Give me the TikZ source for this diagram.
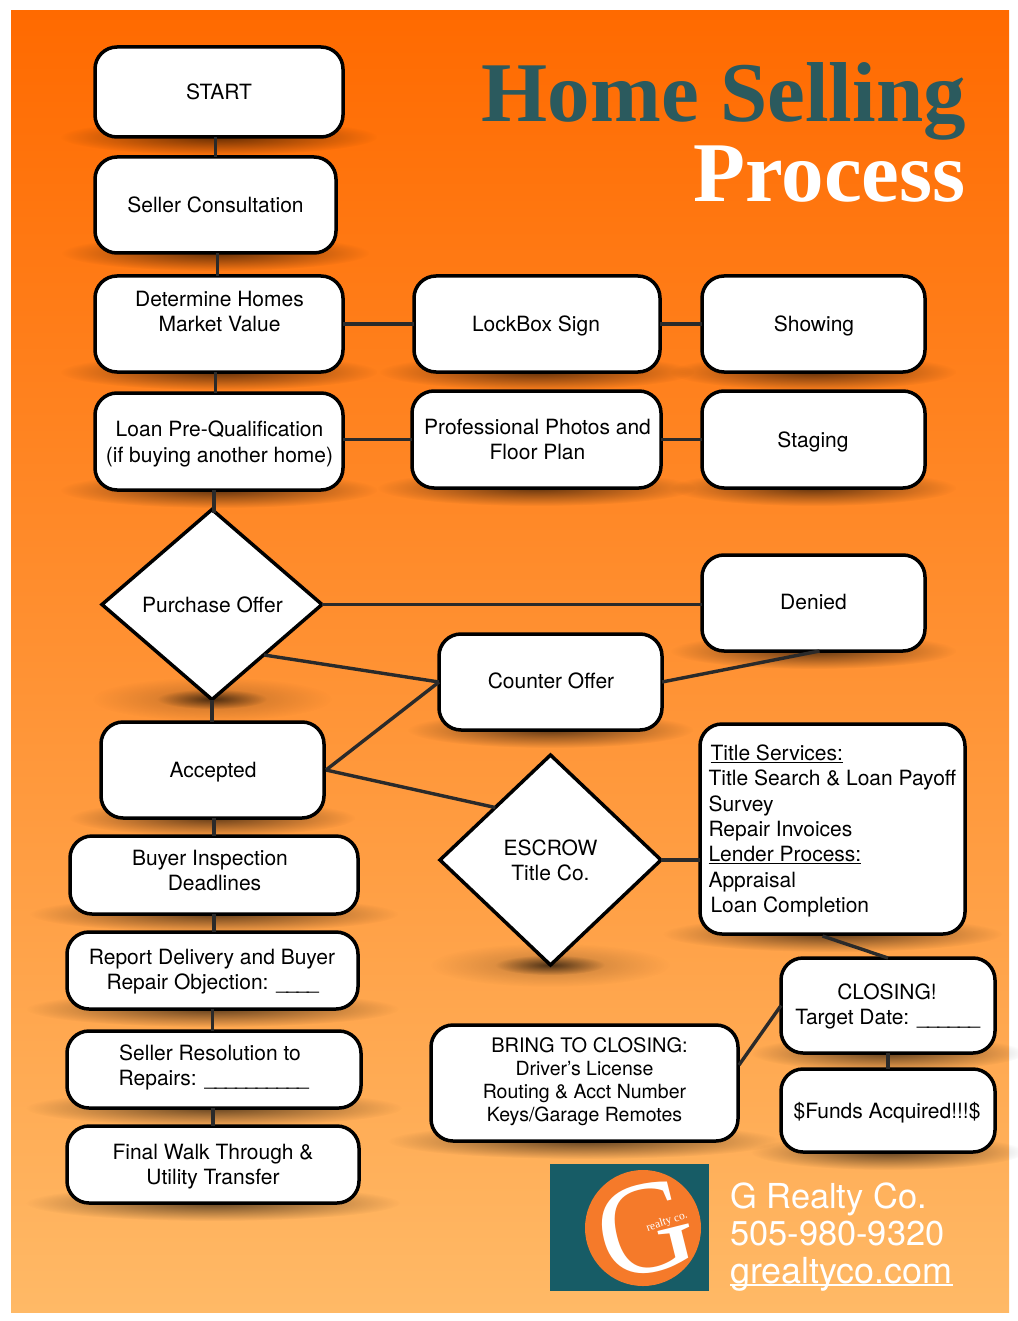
\documentclass[tikz,border=0pt]{standalone}
\usepackage{fontspec}
\setmainfont{TeX Gyre Heros}
\newfontfamily\ttlfont{Liberation Serif}
\usetikzlibrary{shapes.geometric,fadings,calc}
\tikzfading[name=softfade, inner color=transparent!40, outer color=transparent!100]
\tikzset{
  box/.style={draw=black, line width=3.5pt, rounded corners=22pt, fill=white, inner sep=0pt, outer sep=0pt},
  dia/.style={diamond, draw=black, line width=3.5pt, fill=white, inner sep=0pt, outer sep=0pt, aspect=1.16},
  link/.style={draw=linkgrey, line width=3.4pt},
  soft/.style={fill=black, path fading=softfade, draw=none},
  foot/.style={text=white, anchor=base west, inner sep=0pt, font=\fontsize{34.4}{34}\selectfont},
  head/.style={anchor=base east, inner sep=0pt, font=\ttlfont\bfseries\fontsize{85}{85}\selectfont}
}
\definecolor{linkgrey}{HTML}{2A2A2A}
\definecolor{topor}{HTML}{FF6A00}
\definecolor{botor}{HTML}{FFB966}
\definecolor{teal}{HTML}{175C66}
\definecolor{titleteal}{HTML}{2B5A5E}
\definecolor{logoor}{HTML}{F57A2A}
\newcommand{\tx}[3]{\raisebox{\dimexpr -#2pt-2.5pt\relax}[0pt][0pt]{\makebox[0pt][c]{\hspace{\dimexpr 2\dimexpr #1pt\relax\relax}\parbox{440pt}{\fontsize{21}{25.3}\selectfont\centering #3}}}}
% name, x1, y1, x2, y2 (outer edges), dx, dy, text
\newcommand{\bx}[8]{%
  \pgfmathsetmacro\cxx{(#2+#4)/2}\pgfmathsetmacro\cyy{(#3+#5)/2}%
  \pgfmathsetmacro\wdd{#4-#2}\pgfmathsetmacro\htt{#5-#3}%
  \node[box, minimum width=\wdd pt, minimum height=\htt pt] (#1) at (\cxx,\cyy) {\tx{#6}{#7}{#8}};%
}
\newcommand{\shd}[3]{% x1, x2, y of lower edge
  \pgfmathsetmacro\cxx{(#1+#2)/2}\pgfmathsetmacro\rxx{(#2-#1)*0.64}%
  \fill[soft] (\cxx,#3) ellipse [x radius=\rxx pt, y radius=18pt];%
}
\newcommand{\tipshd}[2]{% shadow below a diamond's tip
  \fill[soft, fill opacity=.4] (#1,#2) ellipse [x radius=120pt, y radius=22pt];%
  \fill[soft] (#1,#2) ellipse [x radius=55pt, y radius=10pt];%
}
\newcommand{\us}{\_\kern-1.4pt}
\begin{document}
\begin{tikzpicture}[x=1pt,y=-1pt]
\useasboundingbox (0,0) rectangle (1017,1321);
\fill[white] (0,0) rectangle (1017,1321);
\shade[top color=topor, bottom color=botor] (11,11) rectangle (1009,1312);
% soft shadows
\shd{95}{343}{137}\shd{95}{336}{253}\shd{95}{343}{372}\shd{95}{343}{490}
\shd{414}{660}{372}\shd{412}{661}{488}\shd{702}{925}{372}\shd{702}{925}{488}
\shd{702}{925}{651}\shd{439}{662}{730}\shd{101}{324}{818}\shd{70}{358}{914}
\shd{67}{358}{1009}\shd{67}{361}{1108}\shd{67}{359}{1203}\shd{700}{965}{934}
\shd{781}{995}{1053}\shd{781}{995}{1152}\shd{431}{738}{1141}
\tipshd{212}{699}\tipshd{550}{965}
% title
\node[head, text=titleteal] (ttlA) at (966,122) {Home Selling};
\node[head, text=white] (ttlB) at (966,202) {Process};
% boxes
\bx{start}{95}{47}{343}{137}{0}{0}{START}
\bx{consult}{95}{157}{336}{253}{0}{0}{Seller Consultation}
\bx{market}{95}{276}{343}{372}{0.5}{-12.5}{Determine Homes\\Market Value}
\bx{lockbox}{414}{276}{660}{372}{-1}{2}{LockBox Sign}
\bx{showing}{702}{276}{925}{372}{0.5}{2}{Showing}
\bx{loan}{95}{393}{343}{490}{0.5}{2.5}{Loan Pre-Qualification\\(if buying another home)}
\bx{photos}{412}{391}{661}{488}{1}{0}{Professional Photos and\\Floor Plan}
\bx{staging}{702}{391}{925}{488}{-0.5}{2}{Staging}
\bx{denied}{702}{555}{925}{651}{0}{-1}{Denied}
\bx{counter}{439}{634}{662}{730}{0.5}{-1}{Counter Offer}
\bx{accepted}{101}{722}{324}{818}{0.5}{2}{Accepted}
\bx{buyer}{70}{836}{358}{914}{-4}{-4.5}{Buyer Inspection\\\hspace*{9pt}Deadlines}
\bx{report}{67}{932}{358}{1009}{-0.5}{1}{Report Delivery and Buyer\\Repair Objection: \us\us\us\us}
\bx{resolution}{67}{1031}{361}{1108}{-4}{-2}{Seller Resolution to\\\hspace*{6pt}Repairs: \us\us\us\us\us\us\us\us\us\us}
\bx{final}{67}{1126}{359}{1203}{0}{2}{Final Walk Through \&\\Utility Transfer}
\bx{titlebox}{700}{724}{965}{934}{96}{2}{\raggedright\hspace*{2pt}\underline{Title Services:}\\Title Search \& Loan Payoff\\Survey\\Repair Invoices\\\underline{Lender Process:}\\Appraisal\\\hspace*{2pt}Loan Completion}
\bx{closing}{781}{958}{995}{1053}{-1}{1}{CLOSING!\\Target Date: \us\us\us\us\us\us}
\bx{funds}{781}{1069}{995}{1152}{-1}{2}{\$Funds Acquired!!!\$}
\bx{bring}{431}{1025}{738}{1141}{0}{-1}{\fontsize{20}{23}\selectfont\hspace*{10pt}BRING TO CLOSING:\\\fontsize{19.5}{23}\selectfont Driver’s License\\Routing \& Acct Number\\Keys/Garage Remotes}
% diamonds
\node[dia, minimum width=220pt, minimum height=190pt] (purchase) at (212,604.5) {\tx{0.5}{0.5}{Purchase Offer}};
\node[dia, minimum width=221pt, minimum height=210pt] (escrow) at (550.5,860) {\tx{0}{0}{ESCROW\\Title Co.}};
% connectors
\coordinate (cmA) at ($(consult.south)+(2,0)$);
\coordinate (lpA) at ($(purchase.north)+(2,3)$);
\draw[link] (start.south -| consult.north) -- (consult.north);
\draw[link] (cmA) -- (market.north -| cmA);
\draw[link] (market.south -| consult.south) -- (loan.north -| consult.south);
\draw[link] (loan.south -| lpA) -- (lpA);
\draw[link] (purchase.south) -- (accepted.north -| purchase.south);
\draw[link] (accepted.south -| buyer.north) -- (buyer.north);
\draw[link] (buyer.south) -- (report.north -| buyer.south);
\draw[link] (report.south) -- (resolution.north -| report.south);
\draw[link] (resolution.south -| final.north) -- (final.north);
\draw[link] (market.east) -- (lockbox.west);
\draw[link] (lockbox.east) -- (showing.west);
\draw[link] (loan.east |- photos.west) -- (photos.west);
\draw[link] (photos.east) -- (staging.west);
\draw[link] (purchase.east) -- (purchase.east -| denied.west);
\coordinate (pcA) at ($(purchase.south east)+(-3,3)$);
\draw[link] (pcA) -- (counter.west);
\coordinate (deniedfoot) at ($(denied.south)+(6,0)$);
\draw[link] (counter.east) -- (deniedfoot);
\coordinate (acceptedside) at ($(accepted.east)+(2,0)$);
\draw[link] (acceptedside) -- (counter.west);
\draw[link] (acceptedside) -- (escrow.north west);
\draw[link] (escrow.east) -- (escrow.east -| titlebox.west);
\coordinate (titlefoot) at ($(titlebox.south)+(-10,2)$);
\draw[link] (titlefoot) -- (closing.north);
\coordinate (bringside) at ($(bring.east)+(1,-18)$);
\draw[link] (bringside) -- (closing.west);
\draw[link] (closing.south) -- (funds.north);
% logo
\fill[teal] (550,1164) rectangle (709,1291);
\node[circle, fill=logoor, minimum size=116pt, inner sep=0pt] (disc) at (643,1228) {};
\node[text=white, inner sep=0pt, rotate=14, font=\ttlfont\fontsize{132}{132}\selectfont] (logoG) at (645,1229) {G};
\node[text=white, inner sep=0pt, rotate=18, font=\ttlfont\fontsize{11.5}{12}\selectfont] (logoT) at (667,1222) {realty co.};
% footer text
\node[foot] (ftA) at (730,1208) {G Realty Co.};
\node[foot] (ftB) at (730,1245) {505-980-9320};
\node[foot, font=\fontsize{35.9}{36}\selectfont] (ftC) at (730,1283) {\sbox0{grealtyco.com}\rlap{\rule[-3pt]{\wd0}{2pt}}\usebox0};
\end{tikzpicture}
\end{document}
